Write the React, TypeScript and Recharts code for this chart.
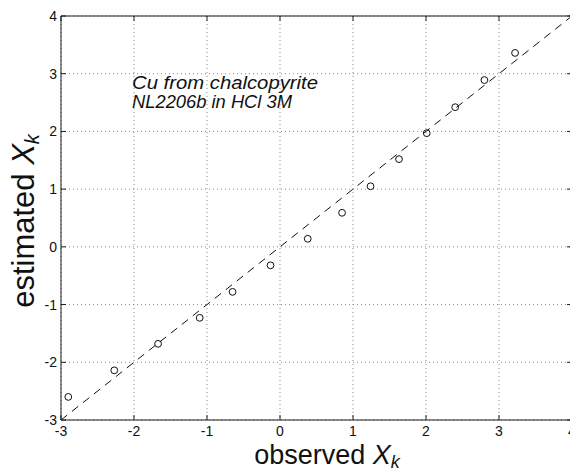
import { ScatterChart, Scatter, XAxis, YAxis, CartesianGrid, ReferenceLine } from "recharts";

// observed vs estimated X_k
const observed = [-2.9, -2.27, -1.67, -1.1, -0.65, -0.13, 0.38, 0.85, 1.24, 1.63, 2.01, 2.4, 2.8, 3.22];
const estimated = [-2.6, -2.14, -1.68, -1.23, -0.78, -0.32, 0.14, 0.59, 1.05, 1.52, 1.97, 2.42, 2.89, 3.36];
const xTicks = [-3, -2, -1, 0, 1, 2, 3, 4];
const yTicks = [-3, -2, -1, 0, 1, 2, 3, 4];
const noteLines = ["Cu from chalcopyrite", "NL2206b in HCl 3M"];

const points = observed.map((x, i) => ({ x, y: estimated[i] }));

const W = 600;
const H = 474;
const TOP = 16;
const LEFT = 61;
const RIGHT = 572;
const BOTTOM = 420;
const FONT = "'Liberation Sans', Arial, Helvetica, sans-serif";
const AXIS = "#1a1a1a";
const noteWidths = [186, 160];

const XTick = (props: any) => {
  const { x, y, payload } = props;
  return (
    <g>
      <line x1={x} y1={y} x2={x} y2={y - 5} stroke={AXIS} />
      <line x1={x} y1={TOP} x2={x} y2={TOP + 5} stroke={AXIS} />
      <text x={x} y={y + 16} textAnchor="middle" fontSize={14} fontFamily={FONT} fill="#111">
        {payload.value}
      </text>
    </g>
  );
};

const YTick = (props: any) => {
  const { x, y, payload } = props;
  return (
    <g>
      <line x1={x} y1={y} x2={x + 5} y2={y} stroke={AXIS} />
      <line x1={RIGHT} y1={y} x2={RIGHT - 5} y2={y} stroke={AXIS} />
      <text x={x - 4} y={y + 5} textAnchor="end" fontSize={14} fontFamily={FONT} fill="#111">
        {payload.value}
      </text>
    </g>
  );
};

const Circle = (props: any) => (
  <circle cx={props.cx} cy={props.cy} r={3.4} fill="none" stroke="#111" strokeWidth={1} />
);

export default function App() {
  return (
    <div style={{ position: "absolute", left: 0, top: 0, width: 570, height: 474, overflow: "hidden", background: "#fff" }}>
      <ScatterChart width={W} height={H} margin={{ top: TOP, right: W - RIGHT, bottom: 30, left: 0 }}>
        <CartesianGrid stroke="#8a8a8a" strokeDasharray="1 3" horizontalValues={yTicks} verticalValues={xTicks} />
        <XAxis
          type="number"
          dataKey="x"
          domain={[-3, 4]}
          ticks={xTicks}
          interval={0}
          height={H - 30 - BOTTOM}
          tickSize={0}
          tickMargin={0}
          tickLine={false}
          axisLine={{ stroke: AXIS }}
          tick={XTick}
          allowDataOverflow
        />
        <YAxis
          type="number"
          dataKey="y"
          domain={[-3, 4]}
          ticks={yTicks}
          interval={0}
          width={LEFT}
          tickSize={0}
          tickMargin={0}
          tickLine={false}
          axisLine={{ stroke: AXIS }}
          tick={YTick}
          allowDataOverflow
        />
        <ReferenceLine y={4} stroke={AXIS} />
        <ReferenceLine x={4} stroke={AXIS} />
        <ReferenceLine
          segment={[{ x: -3, y: -3 }, { x: 4, y: 4 }]}
          stroke="#111"
          strokeDasharray="8 6"
        />
        <Scatter data={points} shape={Circle} isAnimationActive={false} />
        <text x={327} y={464} textAnchor="middle" fontSize={27} fontFamily={FONT} fill="#111">
          observed <tspan fontStyle="italic">X</tspan>
          <tspan fontStyle="italic" fontSize={18} dy={4}>k</tspan>
        </text>
        <text
          x={34}
          y={221}
          transform="rotate(-90 34 221)"
          textAnchor="middle"
          fontSize={31}
          fontFamily={FONT}
          fill="#111"
        >
          estimated <tspan fontStyle="italic">X</tspan>
          <tspan fontStyle="italic" fontSize={20} dy={5}>k</tspan>
        </text>
        {noteLines.map((t, i) => (
          <text
            key={t}
            x={132}
            y={89 + i * 19}
            fontSize={19}
            fontStyle="italic"
            fontFamily={FONT}
            fill="#111"
            textLength={noteWidths[i]}
            lengthAdjust="spacingAndGlyphs"
          >
            {t}
          </text>
        ))}
      </ScatterChart>
    </div>
  );
}
